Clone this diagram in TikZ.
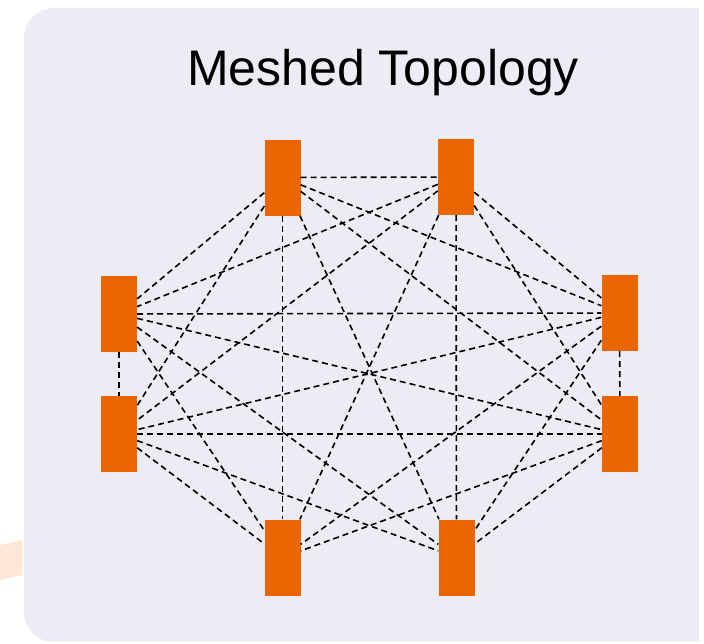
\documentclass[tikz,border=0pt]{standalone}
\usepackage{fontspec}
\setmainfont{Liberation Sans}
\definecolor{panel_bg}{HTML}{ECECF4}
\definecolor{device_orange}{HTML}{EC6600}
\definecolor{glow_peach}{HTML}{FDE8D6}
\begin{document}
\begin{tikzpicture}[
x=1pt, y=-1pt,
device/.style={rectangle, fill=device_orange, inner sep=0pt, minimum width=36pt, minimum height=76pt},
mesh_link/.style={black, line width=1.6pt, dash pattern=on 6pt off 4pt},
title_text/.style={font=\fontsize{50}{60}\selectfont}
]
\useasboundingbox (0,0) rectangle (704,643);

% panel behind the mesh
\begin{scope}
\clip (0,0) rectangle (699,643);
\fill[panel_bg, rounded corners=30pt] (24,8) rectangle (760,642);
\end{scope}
\fill[glow_peach] (0,545) -- (22,540) -- (22,575) -- (0,580) -- cycle;

\node[title_text](title) at (383,73) {Meshed Topology};

\node[device](top_left) at (282.5,177.5) {};
\node[device](top_right) at (456,177) {};
\node[device](left_upper) at (119,314) {};
\node[device](right_upper) at (619.5,313) {};
\node[device](left_lower) at (119,434) {};
\node[device](right_lower) at (620,434) {};
\node[device](bottom_left) at (282.5,557.5) {};
\node[device](bottom_right) at (456.5,557.5) {};

\draw[mesh_link](top_left) -- (top_right);
\draw[mesh_link](top_left) -- (left_upper);
\draw[mesh_link](top_left) -- (right_upper);
\draw[mesh_link](top_left) -- (left_lower);
\draw[mesh_link](top_left) -- (right_lower);
\draw[mesh_link](top_left) -- (bottom_left);
\draw[mesh_link](top_left) -- (bottom_right);

\draw[mesh_link](top_right) -- (left_upper);
\draw[mesh_link](top_right) -- (right_upper);
\draw[mesh_link](top_right) -- (left_lower);
\draw[mesh_link](top_right) -- (right_lower);
\draw[mesh_link](top_right) -- (bottom_left);
\draw[mesh_link](top_right) -- (bottom_right);

\draw[mesh_link](left_upper) -- (right_upper);
\draw[mesh_link](left_upper) -- (left_lower);
\draw[mesh_link](left_upper) -- (right_lower);
\draw[mesh_link](left_upper) -- (bottom_left);
\draw[mesh_link](left_upper) -- (bottom_right);

\draw[mesh_link](right_upper) -- (left_lower);
\draw[mesh_link](right_upper) -- (right_lower);
\draw[mesh_link](right_upper) -- (bottom_left);
\draw[mesh_link](right_upper) -- (bottom_right);

\draw[mesh_link](left_lower) -- (right_lower);
\draw[mesh_link](left_lower) -- (bottom_left);
\draw[mesh_link](left_lower) -- (bottom_right);

\draw[mesh_link](right_lower) -- (bottom_left);
\draw[mesh_link](right_lower) -- (bottom_right);
\end{tikzpicture}
\end{document}
